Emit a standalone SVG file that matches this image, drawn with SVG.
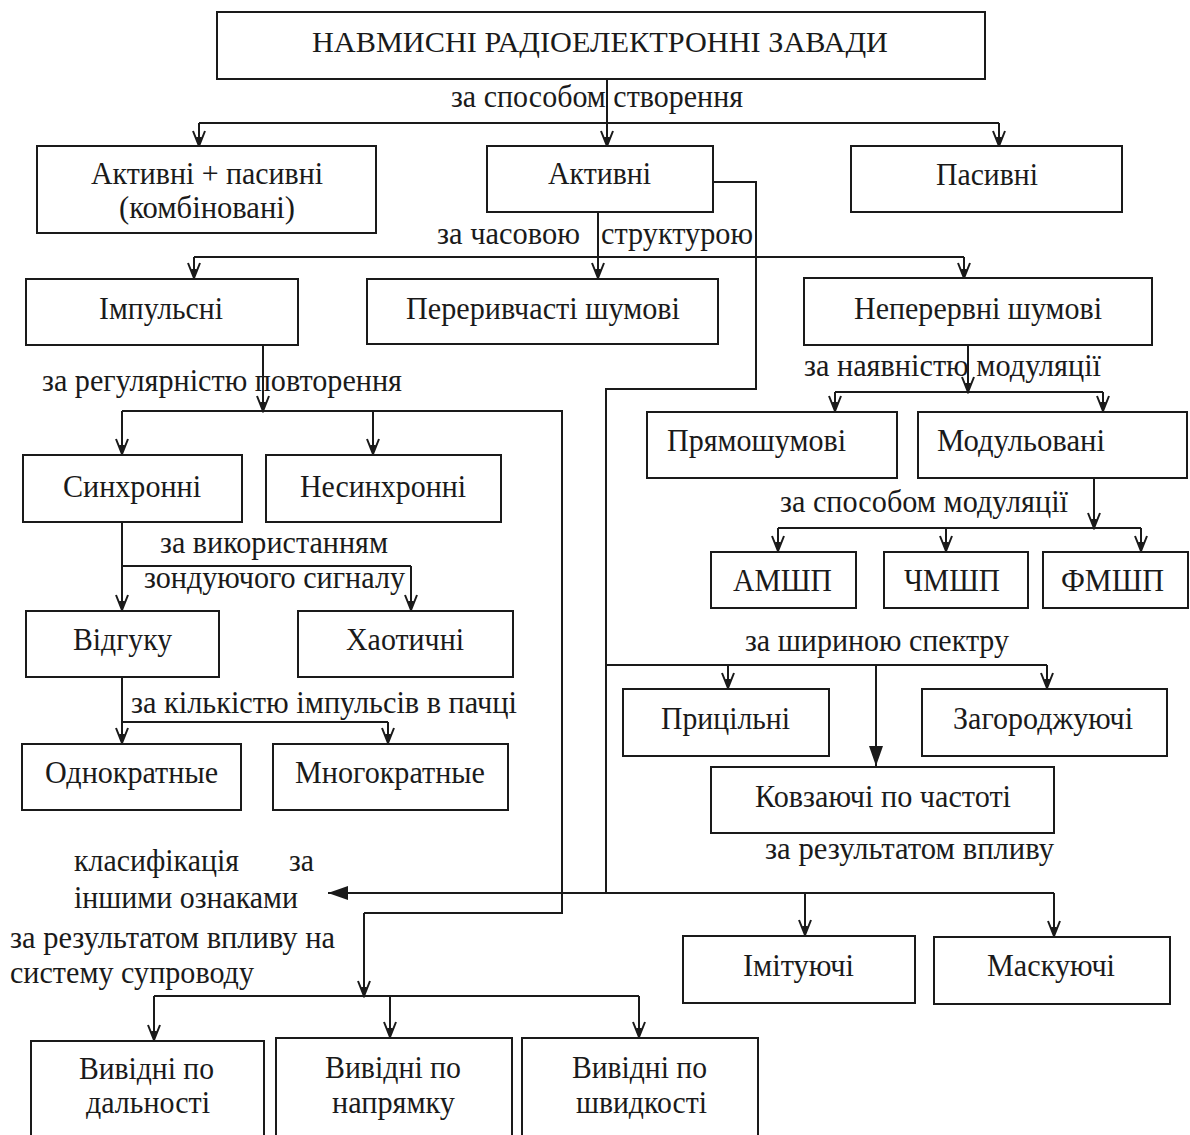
<svg xmlns="http://www.w3.org/2000/svg" width="1190" height="1135" viewBox="0 0 1190 1135">
<defs>
<style>
.b{fill:#fff;stroke:#1a1a1a;stroke-width:2}
.t{font-family:"Liberation Serif","Times New Roman",serif;font-size:32px;fill:#1a1a1a}
.h{font-size:29px}
.c{fill:none;stroke:#1a1a1a;stroke-width:2}
.a{marker-end:url(#ar)}
.f{marker-end:url(#af)}
</style>
<marker id="ar" markerUnits="userSpaceOnUse" viewBox="-17 -8 19 16" refX="0" refY="0" markerWidth="19" markerHeight="16" orient="auto">
<path d="M-15,-6 L0,0 L-15,6" fill="none" stroke="#1a1a1a" stroke-width="2"/>
<path d="M0,0 L-9,-3 L-9,3 Z" fill="#1a1a1a"/>
</marker>
<marker id="af" markerUnits="userSpaceOnUse" viewBox="-21 -8 22 16" refX="0" refY="0" markerWidth="22" markerHeight="16" orient="auto">
<path d="M0,0 L-20,-7 L-20,7 Z" fill="#1a1a1a"/>
</marker>
</defs>
<rect width="1190" height="1135" fill="#fff"/>

<g id="connectors">
<path class="c a" d="M607,79 V146"/>
<path class="c" d="M199,123 H999"/>
<path class="c a" d="M199,123 V146"/>
<path class="c a" d="M999,123 V146"/>
<path class="c a" d="M598,212 V278"/>
<path class="c" d="M194,257 H964"/>
<path class="c a" d="M194,257 V278"/>
<path class="c a" d="M964,257 V278"/>
<path class="c" d="M713,182 H756 V389 H606 V893"/>
<path class="c a" d="M263,345 V411"/>
<path class="c" d="M122,411 H562 V913 H364"/>
<path class="c a" d="M364,913 V996"/>
<path class="c a" d="M122,411 V454"/>
<path class="c a" d="M373,411 V454"/>
<path class="c a" d="M968,345 V392"/>
<path class="c" d="M835,392 H1103"/>
<path class="c a" d="M835,392 V411"/>
<path class="c a" d="M1103,392 V411"/>
<path class="c a" d="M1094,478 V528"/>
<path class="c" d="M778,528 H1141"/>
<path class="c a" d="M778,528 V551"/>
<path class="c a" d="M946,528 V551"/>
<path class="c a" d="M1141,528 V551"/>
<path class="c a" d="M122,522 V610"/>
<path class="c" d="M122,566 H411"/>
<path class="c a" d="M411,566 V610"/>
<path class="c a" d="M122,677 V743"/>
<path class="c" d="M122,722 H388"/>
<path class="c a" d="M388,722 V743"/>
<path class="c" d="M606,665 H1047"/>
<path class="c a" d="M728,665 V688"/>
<path class="c a" d="M1047,665 V688"/>
<path class="c f" d="M876,665 V766"/>
<path class="c f" d="M606,893 H328"/>
<path class="c" d="M606,893 H1054"/>
<path class="c a" d="M805,893 V935"/>
<path class="c a" d="M1054,893 V936"/>
<path class="c" d="M154,996 H639"/>
<path class="c a" d="M154,996 V1040"/>
<path class="c a" d="M390,996 V1037"/>
<path class="c a" d="M639,996 V1037"/>
</g>

<g id="n-title"><rect class="b" x="217" y="12" width="768" height="67"/><text class="t h" x="312" y="52" textLength="576" lengthAdjust="spacingAndGlyphs">НАВМИСНІ РАДІОЕЛЕКТРОННІ ЗАВАДИ</text></g>
<g id="n-combined"><rect class="b" x="37" y="146" width="339" height="87"/><text class="t" x="91" y="184" textLength="232" lengthAdjust="spacingAndGlyphs">Активні + пасивні</text><text class="t" x="119" y="218" textLength="176" lengthAdjust="spacingAndGlyphs">(комбіновані)</text></g>
<g id="n-active"><rect class="b" x="487" y="146" width="226" height="66"/><text class="t" x="548" y="184" textLength="103" lengthAdjust="spacingAndGlyphs">Активні</text></g>
<g id="n-passive"><rect class="b" x="851" y="146" width="271" height="66"/><text class="t" x="936" y="185" textLength="102" lengthAdjust="spacingAndGlyphs">Пасивні</text></g>
<g id="n-impulse"><rect class="b" x="26" y="279" width="272" height="66"/><text class="t" x="99" y="319" textLength="124" lengthAdjust="spacingAndGlyphs">Імпульсні</text></g>
<g id="n-interrupted"><rect class="b" x="367" y="279" width="351" height="65"/><text class="t" x="406" y="319" textLength="274" lengthAdjust="spacingAndGlyphs">Переривчасті шумові</text></g>
<g id="n-continuous"><rect class="b" x="804" y="278" width="348" height="67"/><text class="t" x="854" y="319" textLength="248" lengthAdjust="spacingAndGlyphs">Неперервні шумові</text></g>
<g id="n-direct"><rect class="b" x="647" y="412" width="250" height="66"/><text class="t" x="667" y="451" textLength="179" lengthAdjust="spacingAndGlyphs">Прямошумові</text></g>
<g id="n-modulated"><rect class="b" x="918" y="412" width="269" height="66"/><text class="t" x="937" y="451" textLength="168" lengthAdjust="spacingAndGlyphs">Модульовані</text></g>
<g id="n-sync"><rect class="b" x="23" y="455" width="219" height="67"/><text class="t" x="63" y="497" textLength="138" lengthAdjust="spacingAndGlyphs">Синхронні</text></g>
<g id="n-async"><rect class="b" x="266" y="455" width="235" height="67"/><text class="t" x="300" y="497" textLength="166" lengthAdjust="spacingAndGlyphs">Несинхронні</text></g>
<g id="n-amshp"><rect class="b" x="711" y="552" width="145" height="56"/><text class="t" x="733" y="591" textLength="99" lengthAdjust="spacingAndGlyphs">АМШП</text></g>
<g id="n-chmshp"><rect class="b" x="884" y="552" width="144" height="56"/><text class="t" x="904" y="591" textLength="96" lengthAdjust="spacingAndGlyphs">ЧМШП</text></g>
<g id="n-fmshp"><rect class="b" x="1043" y="552" width="145" height="56"/><text class="t" x="1061" y="591" textLength="103" lengthAdjust="spacingAndGlyphs">ФМШП</text></g>
<g id="n-response"><rect class="b" x="26" y="611" width="193" height="66"/><text class="t" x="73" y="650" textLength="99" lengthAdjust="spacingAndGlyphs">Відгуку</text></g>
<g id="n-chaotic"><rect class="b" x="298" y="611" width="215" height="66"/><text class="t" x="346" y="650" textLength="118" lengthAdjust="spacingAndGlyphs">Хаотичні</text></g>
<g id="n-aimed"><rect class="b" x="623" y="689" width="206" height="67"/><text class="t" x="661" y="729" textLength="129" lengthAdjust="spacingAndGlyphs">Прицільні</text></g>
<g id="n-barrage"><rect class="b" x="922" y="689" width="245" height="67"/><text class="t" x="953" y="729" textLength="180" lengthAdjust="spacingAndGlyphs">Загороджуючі</text></g>
<g id="n-single"><rect class="b" x="22" y="744" width="219" height="66"/><text class="t" x="45" y="783" textLength="173" lengthAdjust="spacingAndGlyphs">Однократные</text></g>
<g id="n-multi"><rect class="b" x="273" y="744" width="235" height="66"/><text class="t" x="295" y="783" textLength="190" lengthAdjust="spacingAndGlyphs">Многократные</text></g>
<g id="n-sweep"><rect class="b" x="711" y="767" width="343" height="66"/><text class="t" x="755" y="807" textLength="256" lengthAdjust="spacingAndGlyphs">Ковзаючі по частоті</text></g>
<g id="n-imitating"><rect class="b" x="683" y="936" width="232" height="67"/><text class="t" x="743" y="976" textLength="111" lengthAdjust="spacingAndGlyphs">Імітуючі</text></g>
<g id="n-masking"><rect class="b" x="934" y="937" width="236" height="67"/><text class="t" x="987" y="976" textLength="128" lengthAdjust="spacingAndGlyphs">Маскуючі</text></g>
<g id="n-range"><rect class="b" x="31" y="1041" width="233" height="110"/><text class="t" x="79" y="1079" textLength="135" lengthAdjust="spacingAndGlyphs">Вивідні по</text><text class="t" x="86" y="1113" textLength="124" lengthAdjust="spacingAndGlyphs">дальності</text></g>
<g id="n-direction"><rect class="b" x="276" y="1038" width="236" height="110"/><text class="t" x="325" y="1078" textLength="136" lengthAdjust="spacingAndGlyphs">Вивідні по</text><text class="t" x="332" y="1113" textLength="123" lengthAdjust="spacingAndGlyphs">напрямку</text></g>
<g id="n-speed"><rect class="b" x="522" y="1038" width="236" height="110"/><text class="t" x="572" y="1078" textLength="135" lengthAdjust="spacingAndGlyphs">Вивідні по</text><text class="t" x="576" y="1113" textLength="131" lengthAdjust="spacingAndGlyphs">швидкості</text></g>

<g id="labels">
<text class="t" x="451" y="107" textLength="292" lengthAdjust="spacingAndGlyphs">за способом створення</text>
<text class="t" x="437" y="244" textLength="143" lengthAdjust="spacingAndGlyphs">за часовою</text>
<text class="t" x="601" y="244" textLength="152" lengthAdjust="spacingAndGlyphs">структурою</text>
<text class="t" x="42" y="391" textLength="360" lengthAdjust="spacingAndGlyphs">за регулярністю повторення</text>
<text class="t" x="804" y="376" textLength="297" lengthAdjust="spacingAndGlyphs">за наявністю модуляції</text>
<text class="t" x="780" y="512" textLength="288" lengthAdjust="spacingAndGlyphs">за способом модуляції</text>
<text class="t" x="160" y="553" textLength="228" lengthAdjust="spacingAndGlyphs">за використанням</text>
<text class="t" x="144" y="588" textLength="261" lengthAdjust="spacingAndGlyphs">зондуючого сигналу</text>
<text class="t" x="745" y="651" textLength="264" lengthAdjust="spacingAndGlyphs">за шириною спектру</text>
<text class="t" x="131" y="713" textLength="386" lengthAdjust="spacingAndGlyphs">за кількістю імпульсів в пачці</text>
<text class="t" x="765" y="859" textLength="289" lengthAdjust="spacingAndGlyphs">за результатом впливу</text>
<text class="t" y="871"><tspan x="74" textLength="165" lengthAdjust="spacingAndGlyphs">класифікація</tspan> <tspan x="289" textLength="25" lengthAdjust="spacingAndGlyphs">за</tspan></text>
<text class="t" x="74" y="908" textLength="224" lengthAdjust="spacingAndGlyphs">іншими ознаками</text>
<text class="t" x="10" y="948" textLength="325" lengthAdjust="spacingAndGlyphs">за результатом впливу на</text>
<text class="t" x="10" y="983" textLength="244" lengthAdjust="spacingAndGlyphs">систему супроводу</text>
</g>
</svg>
